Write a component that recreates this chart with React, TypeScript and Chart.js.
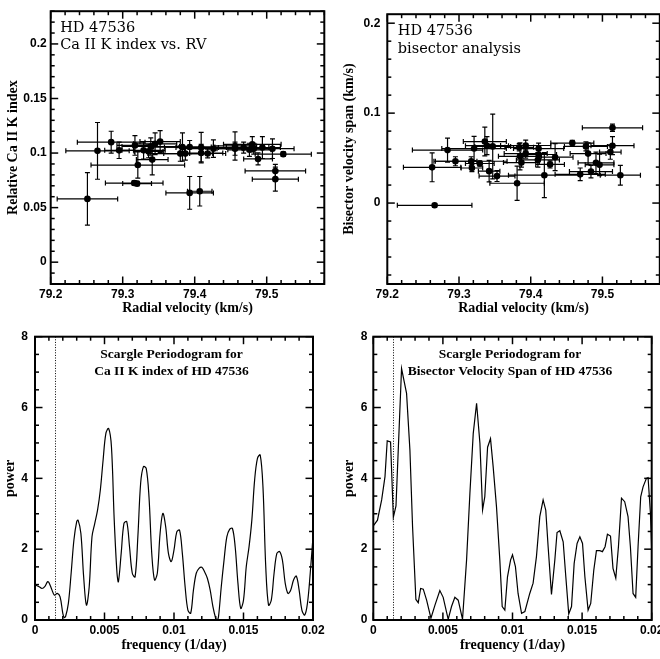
import React, { useEffect, useRef } from "react";
import { Chart, registerables } from "chart.js";
Chart.register(...registerables);

// ---------- Panel 1: Ca II K index vs RV ----------
const rv1 = [79.251, 79.265, 79.284, 79.295, 79.317, 79.316, 79.320, 79.321, 79.329, 79.336, 79.339, 79.341, 79.345, 79.352, 79.380, 79.383, 79.387, 79.393, 79.393, 79.407, 79.409, 79.409, 79.418, 79.426, 79.456, 79.456, 79.468, 79.476, 79.480, 79.482, 79.488, 79.494, 79.508, 79.512, 79.512, 79.523];
const caK = [0.058, 0.102, 0.110, 0.1025, 0.107, 0.0725, 0.0720, 0.089, 0.1025, 0.1015, 0.106, 0.094, 0.1085, 0.1105, 0.0995, 0.1055, 0.0995, 0.1055, 0.0635, 0.065, 0.105, 0.100, 0.0996, 0.104, 0.1065, 0.104, 0.105, 0.103, 0.108, 0.104, 0.0946, 0.105, 0.104, 0.0836, 0.0761, 0.099];
const rvErr1 = [0.042, 0.044, 0.047, 0.020, 0.025, 0.040, 0.020, 0.065, 0.030, 0.020, 0.040, 0.022, 0.030, 0.028, 0.045, 0.040, 0.030, 0.035, 0.033, 0.017, 0.035, 0.030, 0.025, 0.040, 0.030, 0.025, 0.035, 0.030, 0.040, 0.025, 0.020, 0.025, 0.030, 0.042, 0.032, 0.039];
const caKErr = [0.024, 0.026, 0.010, 0.0075, 0.009, 0.002, 0.002, 0.012, 0.008, 0.006, 0.008, 0.014, 0.010, 0.010, 0.007, 0.013, 0.006, 0.006, 0.015, 0.0135, 0.014, 0.008, 0.004, 0.008, 0.013, 0.006, 0.005, 0.006, 0.007, 0.005, 0.0055, 0.010, 0.009, 0.006, 0.011, 0.002];

// ---------- Panel 2: bisector velocity span vs RV ----------
const rv2 = [79.266, 79.2625, 79.284, 79.295, 79.317, 79.318, 79.321, 79.329, 79.336, 79.339, 79.342, 79.347, 79.353, 79.381, 79.384, 79.385, 79.387, 79.393, 79.393, 79.410, 79.411, 79.411, 79.419, 79.427, 79.434, 79.458, 79.469, 79.477, 79.480, 79.484, 79.491, 79.496, 79.511, 79.514, 79.514, 79.525];
const bvs = [-0.0025, 0.0397, 0.0589, 0.0465, 0.0465, 0.039, 0.0606, 0.044, 0.0684, 0.0638, 0.0355, 0.063, 0.030, 0.022, 0.062, 0.052, 0.045, 0.064, 0.055, 0.048, 0.0606, 0.054, 0.031, 0.043, 0.051, 0.0667, 0.032, 0.063, 0.055, 0.035, 0.0447, 0.0425, 0.0567, 0.0638, 0.0837, 0.031];
const rvErr2 = [0.052, 0.040, 0.049, 0.030, 0.050, 0.015, 0.045, 0.020, 0.030, 0.030, 0.015, 0.025, 0.025, 0.038, 0.020, 0.030, 0.025, 0.035, 0.030, 0.030, 0.035, 0.025, 0.050, 0.020, 0.025, 0.030, 0.035, 0.030, 0.025, 0.030, 0.025, 0.020, 0.015, 0.030, 0.042, 0.028];
const bvsErr = [0.002, 0.016, 0.0133, 0.005, 0.005, 0.004, 0.0135, 0.003, 0.016, 0.010, 0.012, 0.036, 0.006, 0.019, 0.004, 0.015, 0.005, 0.006, 0.005, 0.008, 0.006, 0.005, 0.025, 0.004, 0.015, 0.003, 0.007, 0.005, 0.012, 0.007, 0.012, 0.012, 0.008, 0.010, 0.004, 0.011];

// ---------- Panel 3: Scargle periodogram, Ca II K ----------
const freq3 = [0, 0.0003, 0.0005, 0.0007, 0.0009, 0.001, 0.0012, 0.0014, 0.0016, 0.0018, 0.002, 0.0021, 0.0022, 0.0024, 0.0026, 0.0028, 0.003, 0.0031, 0.0033, 0.0035, 0.0037, 0.0039, 0.0041, 0.0043, 0.0045, 0.0047, 0.0049, 0.0051, 0.0053, 0.0055, 0.0057, 0.0059, 0.006, 0.0062, 0.0064, 0.0066, 0.0068, 0.007, 0.0072, 0.0074, 0.0076, 0.0078, 0.008, 0.0082, 0.0084, 0.0086, 0.0088, 0.009, 0.0092, 0.0094, 0.0096, 0.0098, 0.01, 0.0102, 0.0104, 0.0106, 0.0108, 0.011, 0.0112, 0.0114, 0.0116, 0.0118, 0.012, 0.0122, 0.0124, 0.0126, 0.0128, 0.013, 0.0131, 0.0132, 0.0134, 0.0136, 0.0138, 0.014, 0.0142, 0.0144, 0.0146, 0.0148, 0.015, 0.0152, 0.0154, 0.0156, 0.0158, 0.016, 0.0162, 0.0164, 0.0166, 0.0168, 0.017, 0.0172, 0.0174, 0.0176, 0.0178, 0.018, 0.0182, 0.0184, 0.0186, 0.0188, 0.019, 0.0192, 0.0194, 0.0196, 0.0198, 0.02];
const power3 = [0.99, 0.94, 0.89, 0.94, 1.08, 1.06, 0.87, 0.70, 0.75, 0.66, 0.19, 0.07, 0.10, 0.47, 1.32, 2.26, 2.78, 2.82, 2.45, 1.22, 0.42, 0.94, 2.35, 2.73, 3.10, 3.67, 4.52, 5.27, 5.41, 4.89, 2.82, 1.32, 1.08, 1.88, 2.73, 2.78, 2.07, 1.32, 1.22, 2.35, 3.86, 4.33, 4.28, 3.48, 1.88, 1.13, 1.32, 2.45, 3.01, 2.64, 1.88, 1.65, 1.98, 2.49, 2.54, 1.88, 0.94, 0.28, 0.19, 0.85, 1.32, 1.46, 1.49, 1.36, 1.18, 0.85, 0.38, 0.05, 0.0, 0.09, 0.94, 1.69, 2.35, 2.56, 2.59, 2.07, 1.04, 0.33, 0.56, 1.51, 2.07, 2.82, 3.95, 4.56, 4.66, 3.76, 1.51, 0.42, 0.56, 1.32, 1.88, 1.93, 1.69, 1.04, 0.75, 0.85, 1.13, 1.24, 0.85, 0.28, 0.14, 0.47, 1.32, 2.35];

// ---------- Panel 4: Scargle periodogram, bisector span ----------
const freq4 = [0, 0.0003, 0.0006, 0.00084, 0.001, 0.00124, 0.00144, 0.00163, 0.00203, 0.00239, 0.00263, 0.00282, 0.00306, 0.00323, 0.0034, 0.00359, 0.00383, 0.00414, 0.00443, 0.00478, 0.00502, 0.00538, 0.00562, 0.00586, 0.0061, 0.00641, 0.0067, 0.00694, 0.00718, 0.00742, 0.00766, 0.00785, 0.00801, 0.00821, 0.00842, 0.00861, 0.00885, 0.00909, 0.00926, 0.00945, 0.00964, 0.00986, 0.01, 0.01021, 0.0104, 0.01065, 0.01089, 0.01124, 0.01148, 0.01172, 0.01196, 0.0122, 0.01239, 0.01256, 0.0128, 0.01304, 0.0132, 0.0134, 0.01364, 0.01383, 0.01404, 0.01424, 0.01443, 0.01464, 0.01484, 0.01503, 0.0152, 0.01543, 0.01562, 0.01584, 0.01603, 0.01627, 0.01646, 0.01665, 0.01682, 0.01704, 0.01722, 0.01742, 0.01761, 0.01783, 0.01806, 0.0183, 0.01847, 0.01866, 0.01885, 0.01902, 0.01921, 0.01938, 0.01962, 0.01974, 0.01991, 0.02];
const power4 = [2.66, 2.82, 3.39, 4.05, 5.06, 5.03, 2.9, 3.22, 7.1, 6.4, 4.8, 2.64, 0.58, 0.49, 0.89, 0.87, 0.56, 0.05, 0.42, 0.83, 0.64, 0.02, 0.38, 0.64, 0.56, 0.02, 1.69, 3.58, 5.27, 6.12, 4.99, 3.11, 3.48, 4.88, 5.12, 4.33, 3.2, 1.69, 0.38, 0.28, 1.22, 1.69, 1.84, 1.51, 0.75, 0.19, 0.24, 0.75, 1.04, 1.79, 2.92, 3.39, 3.1, 2.07, 0.72, 1.69, 2.47, 2.52, 2.21, 1.22, 0.17, 0.38, 1.6, 2.16, 2.35, 2.16, 1.22, 0.28, 0.47, 1.41, 1.96, 1.96, 1.93, 2.07, 2.42, 2.37, 1.46, 1.18, 2.07, 3.44, 3.34, 2.92, 2.07, 0.75, 0.64, 2.07, 3.48, 3.76, 4.0, 4.02, 3.01, 1.98];

const samplingFreq = 0.00144; // dotted line

// ---------- ticks ----------
const rvTicks = [79.2, 79.3, 79.4, 79.5];
const rvTickLabels = ["79.2", "79.3", "79.4", "79.5"];
const caTicks = [0, 0.05, 0.1, 0.15, 0.2];
const caTickLabels = ["0", "0.05", "0.1", "0.15", "0.2"];
const bvsTicks = [0, 0.1, 0.2];
const bvsTickLabels = ["0", "0.1", "0.2"];
const freqTicks = [0, 0.005, 0.01, 0.015, 0.02];
const freqTickLabels = ["0", "0.005", "0.01", "0.015", "0.02"];
const powTicks = [0, 2, 4, 6, 8];
const powTickLabels = ["0", "2", "4", "6", "8"];

const TICK_FONT = { family: '"Liberation Sans", Arial, sans-serif', size: 12, weight: "bold" as const };
const TITLE_FONT = { family: '"Liberation Serif", "Times New Roman", serif', size: 14, weight: "bold" as const };

type FrameSpec = { xMajor: number[]; xMinor: number; yMajor: number[]; yMinor: number; vline?: number };
type NoteLine = { text: string; dx: number; dy: number; font: string; align: "left" | "center" };

function makeFramePlugin(spec: FrameSpec) {
  return {
    id: "frameTicks",
    afterDraw(chart: any) {
      const { ctx, chartArea: a, scales } = chart;
      const xs = scales.x, ys = scales.y;
      ctx.save();
      ctx.setLineDash([]);
      ctx.strokeStyle = "#000";
      ctx.lineWidth = 1.5;
      const seg = (x1: number, y1: number, x2: number, y2: number) => {
        ctx.beginPath(); ctx.moveTo(x1, y1); ctx.lineTo(x2, y2); ctx.stroke();
      };
      const MAJ = 7.5, MIN = 4;
      const vals = (min: number, max: number, step: number) => {
        const out: number[] = [];
        const i0 = Math.ceil(min / step - 1e-6), i1 = Math.floor(max / step + 1e-6);
        for (let i = i0; i <= i1; i++) out.push(i * step);
        return out;
      };
      const isMajor = (v: number, majors: number[], step: number) => majors.some((m) => Math.abs(m - v) < step * 0.01);
      for (const v of vals(Number(xs.min), Number(xs.max), spec.xMinor)) {
        const len = isMajor(v, spec.xMajor, spec.xMinor) ? MAJ : MIN;
        const px = xs.getPixelForValue(v);
        seg(px, a.bottom, px, a.bottom - len);
        seg(px, a.top, px, a.top + len);
      }
      for (const v of vals(Number(ys.min), Number(ys.max), spec.yMinor)) {
        const len = isMajor(v, spec.yMajor, spec.yMinor) ? MAJ : MIN;
        const py = ys.getPixelForValue(v);
        seg(a.left, py, a.left + len, py);
        seg(a.right, py, a.right - len, py);
      }
      if (spec.vline !== undefined) {
        ctx.setLineDash([1, 1.6]);
        ctx.lineWidth = 1;
        const px = Math.round(xs.getPixelForValue(spec.vline) - 0.5) + 0.5;
        seg(px, a.top, px, a.bottom);
        ctx.setLineDash([]);
      }
      ctx.lineWidth = 2;
      ctx.strokeRect(a.left, a.top, a.right - a.left, a.bottom - a.top);
      ctx.restore();
    },
  };
}

function makeNotesPlugin(lines: NoteLine[]) {
  return {
    id: "notes",
    afterDraw(chart: any) {
      const { ctx, chartArea: a } = chart;
      ctx.save();
      ctx.fillStyle = "#000";
      ctx.textBaseline = "alphabetic";
      for (const ln of lines) {
        ctx.font = ln.font;
        ctx.textAlign = ln.align;
        const x = ln.align === "center" ? (a.left + a.right) / 2 + ln.dx : a.left + ln.dx;
        ctx.fillText(ln.text, x, a.top + ln.dy);
      }
      ctx.restore();
    },
  };
}

const errorBarPlugin = {
  id: "errbars",
  beforeDatasetsDraw(chart: any) {
    const { ctx, chartArea: a, scales } = chart;
    const xs = scales.x, ys = scales.y;
    ctx.save();
    ctx.beginPath();
    ctx.rect(a.left, a.top, a.right - a.left, a.bottom - a.top);
    ctx.clip();
    ctx.strokeStyle = "#000";
    ctx.lineWidth = 1.2;
    const CAP = 2.5;
    chart.data.datasets.forEach((ds: any) => {
      if (!ds.xErr) return;
      ds.data.forEach((pt: any, j: number) => {
        const xe = ds.xErr[j], ye = ds.yErr[j];
        const px = xs.getPixelForValue(pt.x), py = ys.getPixelForValue(pt.y);
        const xl = xs.getPixelForValue(pt.x - xe), xr = xs.getPixelForValue(pt.x + xe);
        const yt = ys.getPixelForValue(pt.y + ye), yb = ys.getPixelForValue(pt.y - ye);
        ctx.beginPath();
        ctx.moveTo(xl, py); ctx.lineTo(xr, py);
        ctx.moveTo(xl, py - CAP); ctx.lineTo(xl, py + CAP);
        ctx.moveTo(xr, py - CAP); ctx.lineTo(xr, py + CAP);
        ctx.moveTo(px, yt); ctx.lineTo(px, yb);
        ctx.moveTo(px - CAP, yt); ctx.lineTo(px + CAP, yt);
        ctx.moveTo(px - CAP, yb); ctx.lineTo(px + CAP, yb);
        ctx.stroke();
      });
    });
    ctx.restore();
  },
};

type Rect = { left: number; top: number; w: number; h: number };
type Plot = { left: number; top: number; right: number; bottom: number };

function makeConfig(p: {
  canvas: Rect; plot: Plot; datasets: any[];
  xMin: number; xMax: number; yMin: number; yMax: number;
  xTicks: number[]; xLabels: string[]; yTicks: number[]; yLabels: string[];
  xTitle: string; yTitle: string;
  xLabelPad: number; yLabelPad: number; xTitlePad: number; yTitlePad: number;
  frame: FrameSpec; notes: NoteLine[];
}) {
  const yW = p.plot.left - p.canvas.left;
  const xH = p.canvas.top + p.canvas.h - p.plot.bottom;
  return {
    type: "scatter" as const,
    data: { datasets: p.datasets },
    options: {
      responsive: false,
      animation: false as const,
      devicePixelRatio: 1,
      layout: {
        padding: { left: 0, top: p.plot.top - p.canvas.top, right: p.canvas.left + p.canvas.w - p.plot.right, bottom: 0 },
      },
      plugins: {
        legend: { display: false },
        tooltip: { enabled: false },
      },
      scales: {
        x: {
          type: "linear" as const, min: p.xMin, max: p.xMax,
          afterBuildTicks: (s: any) => { s.ticks = p.xTicks.map((v) => ({ value: v })); },
          afterFit: (s: any) => { s.height = xH; },
          grid: { display: false, drawTicks: false },
          border: { display: false },
          ticks: {
            color: "#000", font: TICK_FONT, padding: p.xLabelPad, autoSkip: false, maxRotation: 0, minRotation: 0,
            callback: (_v: any, i: number) => p.xLabels[i],
          },
          title: { display: true, text: p.xTitle, color: "#000", font: TITLE_FONT, padding: { top: 0, bottom: p.xTitlePad } },
        },
        y: {
          type: "linear" as const, min: p.yMin, max: p.yMax,
          afterBuildTicks: (s: any) => { s.ticks = p.yTicks.map((v) => ({ value: v })); },
          afterFit: (s: any) => { s.width = yW; },
          grid: { display: false, drawTicks: false },
          border: { display: false },
          ticks: {
            color: "#000", font: TICK_FONT, padding: p.yLabelPad, autoSkip: false,
            callback: (_v: any, i: number) => p.yLabels[i],
          },
          title: { display: true, text: p.yTitle, color: "#000", font: TITLE_FONT, padding: { top: p.yTitlePad, bottom: 0 } },
        },
      },
    },
    plugins: [errorBarPlugin, makeFramePlugin(p.frame), makeNotesPlugin(p.notes)],
  };
}

function scatterSet(xs: number[], ys: number[], xe: number[], ye: number[]) {
  return {
    data: xs.map((x, i) => ({ x, y: ys[i] })),
    xErr: xe, yErr: ye,
    pointRadius: 3.3, pointBackgroundColor: "#000", pointBorderWidth: 0, pointBorderColor: "#000",
    showLine: false,
  };
}
function lineSet(xs: number[], ys: number[], tension: number) {
  return {
    data: xs.map((x, i) => ({ x, y: ys[i] })),
    showLine: true, pointRadius: 0, borderColor: "#000", borderWidth: 1.2, tension,
  };
}

const NOTE_FONT = '14.5px "DejaVu Serif", serif';
const PGRAM_FONT = 'bold 13.5px "Liberation Serif", "Times New Roman", serif';

const panels = [
  makeConfig({
    canvas: { left: 0, top: 0, w: 330, h: 320 },
    plot: { left: 50.7, top: 3.3, right: 324.3, bottom: 284 },
    datasets: [scatterSet(rv1, caK, rvErr1, caKErr)],
    xMin: 79.2, xMax: 79.58, yMin: -0.02, yMax: 0.23,
    xTicks: rvTicks, xLabels: rvTickLabels, yTicks: caTicks, yLabels: caTickLabels,
    xTitle: "Radial velocity (km/s)", yTitle: "Relative Ca II K index",
    xLabelPad: 3.5, yLabelPad: 4, xTitlePad: 3.5, yTitlePad: 5.4,
    frame: { xMajor: rvTicks, xMinor: 0.02, yMajor: caTicks, yMinor: 0.01 },
    notes: [
      { text: "HD 47536", dx: 9.5, dy: 20.5, font: NOTE_FONT, align: "left" },
      { text: "Ca II K index vs. RV", dx: 9.5, dy: 38, font: NOTE_FONT, align: "left" },
    ],
  }),
  makeConfig({
    canvas: { left: 330, top: 0, w: 340, h: 320 },
    plot: { left: 387.3, top: 3.3, right: 659.8, bottom: 284 },
    datasets: [scatterSet(rv2, bvs, rvErr2, bvsErr)],
    xMin: 79.2, xMax: 79.58, yMin: -0.09, yMax: 0.21,
    xTicks: rvTicks, xLabels: rvTickLabels, yTicks: bvsTicks, yLabels: bvsTickLabels,
    xTitle: "Radial velocity (km/s)", yTitle: "Bisector velocity span (km/s)",
    xLabelPad: 3.5, yLabelPad: 7, xTitlePad: 3.5, yTitlePad: 11.3,
    frame: { xMajor: rvTicks, xMinor: 0.02, yMajor: bvsTicks, yMinor: 0.02 },
    notes: [
      { text: "HD 47536", dx: 10.5, dy: 20.5, font: NOTE_FONT, align: "left" },
      { text: "bisector analysis", dx: 10.5, dy: 39, font: NOTE_FONT, align: "left" },
    ],
  }),
  makeConfig({
    canvas: { left: 0, top: 320, w: 330, h: 339 },
    plot: { left: 35, top: 336.7, right: 313, bottom: 620 },
    datasets: [lineSet(freq3, power3, 0.35)],
    xMin: 0, xMax: 0.02, yMin: 0, yMax: 8,
    xTicks: freqTicks, xLabels: freqTickLabels, yTicks: powTicks, yLabels: powTickLabels,
    xTitle: "frequency (1/day)", yTitle: "power",
    xLabelPad: 3.3, yLabelPad: 7, xTitlePad: 5.5, yTitlePad: 1.5,
    frame: { xMajor: freqTicks, xMinor: 0.001, yMajor: powTicks, yMinor: 0.5, vline: samplingFreq },
    notes: [
      { text: "Scargle Periodogram for", dx: -2.5, dy: 21.6, font: PGRAM_FONT, align: "center" },
      { text: "Ca II K index of HD 47536", dx: -2.5, dy: 37.8, font: PGRAM_FONT, align: "center" },
    ],
  }),
  makeConfig({
    canvas: { left: 330, top: 320, w: 340, h: 339 },
    plot: { left: 373.3, top: 336.7, right: 651.7, bottom: 620 },
    datasets: [lineSet(freq4, power4, 0)],
    xMin: 0, xMax: 0.02, yMin: 0, yMax: 8,
    xTicks: freqTicks, xLabels: freqTickLabels, yTicks: powTicks, yLabels: powTickLabels,
    xTitle: "frequency (1/day)", yTitle: "power",
    xLabelPad: 3.3, yLabelPad: 6, xTitlePad: 5.5, yTitlePad: 10.6,
    frame: { xMajor: freqTicks, xMinor: 0.001, yMajor: powTicks, yMinor: 0.5, vline: samplingFreq },
    notes: [
      { text: "Scargle Periodogram for", dx: -2.5, dy: 21.6, font: PGRAM_FONT, align: "center" },
      { text: "Bisector Velocity Span of HD 47536", dx: -2.5, dy: 37.8, font: PGRAM_FONT, align: "center" },
    ],
  }),
];

const rects: Rect[] = [
  { left: 0, top: 0, w: 330, h: 320 },
  { left: 330, top: 0, w: 340, h: 320 },
  { left: 0, top: 320, w: 330, h: 339 },
  { left: 330, top: 320, w: 340, h: 339 },
];

function Panel({ idx }: { idx: number }) {
  const ref = useRef<HTMLCanvasElement | null>(null);
  useEffect(() => {
    if (!ref.current) return;
    const chart = new Chart(ref.current, panels[idx] as any);
    return () => chart.destroy();
  }, [idx]);
  const r = rects[idx];
  return (
    <canvas
      ref={ref}
      width={r.w}
      height={r.h}
      style={{ position: "absolute", left: r.left, top: r.top, width: r.w, height: r.h }}
    />
  );
}

export default function App() {
  return (
    <div style={{ position: "absolute", left: 0, top: 0, width: 660, height: 659, overflow: "hidden", background: "#fff" }}>
      {[0, 1, 2, 3].map((i) => (
        <Panel key={i} idx={i} />
      ))}
    </div>
  );
}
